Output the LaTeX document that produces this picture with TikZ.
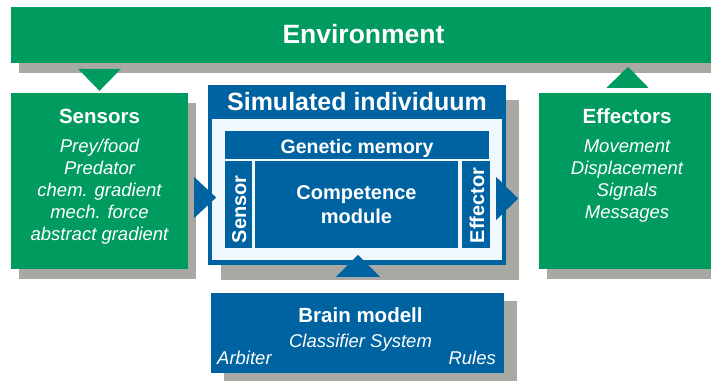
\documentclass[tikz,border=0pt]{standalone}
\usepackage{fontspec}
\setmainfont{Liberation Sans}
\usepackage{tikz}
\usetikzlibrary{positioning,calc,shadows}

\definecolor{envgreen}{RGB}{0,155,95}
\definecolor{simblue}{RGB}{0,99,161}
\definecolor{shadegray}{RGB}{169,169,164}
\definecolor{paleblue}{RGB}{240,247,253}

\begin{document}
\begin{tikzpicture}[x=1pt, y=-1pt, node distance=3pt,
        greenbox/.style={fill=envgreen, inner sep=0pt,
          drop shadow={shadow xshift=8pt, shadow yshift=-10pt, fill=shadegray, opacity=1}},
        bluebox/.style={fill=simblue, inner sep=0pt},
        part/.style={fill=simblue, inner sep=0pt, minimum height=87pt},
        heading/.style={text=white, inner sep=0pt, font=\fontsize{20.5}{24}\selectfont\bfseries},
        items/.style={text=white, inner sep=0pt, align=center, font=\fontsize{18.5}{22}\selectfont\itshape}]
        \useasboundingbox (0,0) rectangle (711,381);
        \clip (0,0) rectangle (711,381);

        % outer world
        \node[greenbox, heading, minimum width=705pt, minimum height=56pt,
          font=\fontsize{26.5}{30}\selectfont\bfseries, text height=19pt, text depth=2pt] (env) at (363.5,35) {Environment};

        \node[greenbox, minimum width=177pt, minimum height=176pt] (sensors) at (99.5,181) {};
        \node[heading] (sensorsTitle) [anchor=base] at (99.5,123) {Sensors};
        \node[items] (sensorsList) [anchor=base] at (99.5,240) {Prey/food\\Predator\\chem. gradient\\mech. force\\abstract gradient};

        \node[greenbox, minimum width=177pt, minimum height=176pt] (effectors) at (627.5,181) {};
        \node[heading] (effectorsTitle) [anchor=base] at (627,123) {Effectors};
        \node[items] (effectorsList) [anchor=base] at (627,218) {Movement\\Displacement\\Signals\\Messages};

        % the individual
        \node[bluebox, minimum width=298pt, minimum height=180pt,
          drop shadow={shadow xshift=13pt, shadow yshift=-15pt, fill=shadegray, opacity=1}] (indiv) at (357,175) {};
        \node[fill=paleblue, inner sep=0pt, minimum width=290pt, minimum height=141pt] (indivInner) at (357,189.5) {};
        \node[heading, font=\fontsize{25}{28}\selectfont\bfseries] (indivTitle) [anchor=base] at (357,110) {Simulated individuum};

        \node[bluebox, minimum width=264pt, minimum height=28pt] (gene) at (357,145) {};
        \node[heading, font=\fontsize{19.5}{22}\selectfont\bfseries] (geneText) [anchor=base] at (357,153) {Genetic memory};
        \node[part, minimum width=27pt] (sens) [below right=2pt and 0pt of gene.south west] {};
        \node[part, minimum width=203pt] (comp) [right=of sens] {};
        \node[part, minimum width=28pt] (eff) [right=of comp] {};
        \node[heading, font=\fontsize{20}{23.5}\selectfont\bfseries, align=center] (compText) at (356.5,204.5) {Competence\\module};
        \node[heading, font=\fontsize{20}{24}\selectfont\bfseries, rotate=90] (sensText) [anchor=base west] at (246,243.5) {Sensor};
        \node[heading, font=\fontsize{20}{24}\selectfont\bfseries, rotate=90] (effText) [anchor=base west] at (484,243.5) {Effector};

        % controller
        \node[bluebox, minimum width=293pt, minimum height=80pt,
          drop shadow={shadow xshift=13pt, shadow yshift=-8pt, fill=shadegray, opacity=1}] (brain) at (357.5,333) {};
        \node[heading] (brainTitle) [anchor=base] at (360.5,322) {Brain modell};
        \node[items] (brainSystem) [anchor=base] at (360.5,347) {Classifier System};
        \node[items] (brainArbiter) [anchor=base west] at (217,364) {Arbiter};
        \node[items] (brainRules) [anchor=base east] at (496,364) {Rules};

        % flow arrows
        \fill[envgreen] ($(sensors.north)+(-21.5,-24)$) -- ($(sensors.north)+(21.5,-24)$) -- ($(sensors.north)+(0,-2)$) -- cycle;
        \fill[envgreen] ($(effectors.north)+(-21,-5)$) -- ($(effectors.north)+(21,-5)$) -- ($(effectors.north)+(0.5,-26)$) -- cycle;
        \fill[simblue] ($(sensors.east)+(6,-4)$) -- ($(sensors.east)+(6,37)$) -- ($(sensors.east)+(28,16.5)$) -- cycle;
        \fill[simblue] ($(indiv.east)+(-10,2)$) -- ($(indiv.east)+(-10,45)$) -- ($(indiv.east)+(12,23.5)$) -- cycle;
        \fill[simblue] ($(brain.north)+(-21.5,-16)$) -- ($(brain.north)+(22.5,-16)$) -- ($(brain.north)+(0.5,-38)$) -- cycle;
\end{tikzpicture}
\end{document}
